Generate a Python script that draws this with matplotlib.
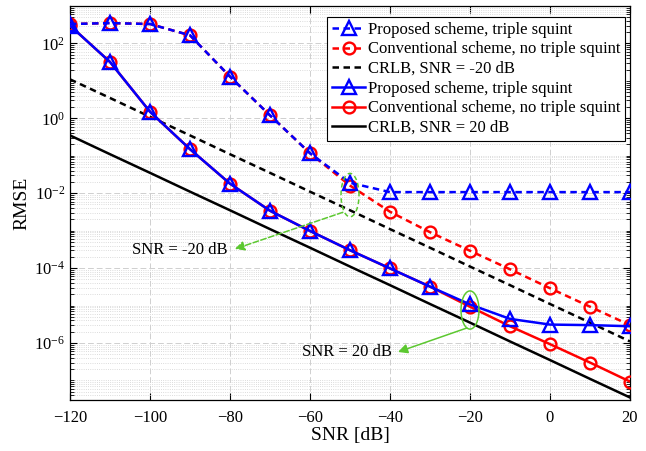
import numpy as np
import matplotlib
matplotlib.use('Agg')
import matplotlib.pyplot as plt
from matplotlib.ticker import FixedLocator, LogLocator, FuncFormatter, NullFormatter

plt.rcParams['font.family'] = ['Liberation Serif', 'DejaVu Serif']
plt.rcParams['mathtext.fontset'] = 'custom'
plt.rcParams['mathtext.rm'] = 'Liberation Serif'
plt.rcParams['mathtext.it'] = 'Liberation Serif:italic'

# data
snr = [-120, -110, -100, -90, -80, -70, -60, -50, -40, -30, -20, -10, 0, 10, 20]

prop_m20 = [330, 350, 330, 165, 13, 1.2, 0.117, 0.019, 0.0107, 0.0107, 0.0107,
            0.0107, 0.0107, 0.0107, 0.0107]
conv_m20 = [330, 350, 330, 165, 13, 1.2, 0.117, 0.016, 3.2e-3, 9.1e-4, 2.9e-4,
            9.3e-5, 2.9e-5, 9.3e-6, 3.0e-6]
crlb_m20 = [11, 3.5, 1.1, 0.35, 0.11, 0.035, 0.011, 3.5e-3, 1.1e-3, 3.5e-4,
            1.1e-4, 3.5e-5, 1.1e-5, 3.5e-6, 1.1e-6]

prop_20 = [300, 32, 1.5, 0.15, 0.018, 3.4e-3, 9.8e-4, 3.0e-4, 9.8e-5, 3.2e-5,
           1.07e-5, 4.4e-6, 3.1e-6, 3.0e-6, 2.8e-6]
conv_20 = [300, 32, 1.5, 0.15, 0.018, 3.4e-3, 9.8e-4, 3.0e-4, 9.8e-5, 3.2e-5,
           9.3e-6, 2.8e-6, 9.3e-7, 3.0e-7, 9.3e-8]
crlb_20 = [0.35, 0.11, 0.035, 0.011, 3.5e-3, 1.1e-3, 3.5e-4, 1.1e-4, 3.5e-5,
           1.1e-5, 3.5e-6, 1.1e-6, 3.5e-7, 1.1e-7, 3.5e-8]

green = '#5cc830'

fig = plt.figure(figsize=(6.46, 4.51), dpi=100)
ax = fig.add_axes([70/646, 51/451, 560/646, 394/451])

lw = 1.8
dash = (2.6, 1.8)
h1, = ax.plot(snr, prop_m20, color='b', ls='--', dashes=dash, lw=lw, marker='^',
              ms=9.5, mfc='none', mew=1.7, zorder=5,
              label='Proposed scheme, triple squint')
h2, = ax.plot(snr, conv_m20, color='r', ls='--', dashes=dash, lw=lw, marker='o',
              ms=8.5, mfc='none', mew=1.7, zorder=4,
              label='Conventional scheme, no triple squint')
h3, = ax.plot(snr, crlb_m20, color='k', ls='--', dashes=dash, lw=lw, zorder=3,
              label='CRLB, SNR = -20 dB')
h4, = ax.plot(snr, prop_20, color='b', ls='-', lw=lw, marker='^',
              ms=9.5, mfc='none', mew=1.7, zorder=5,
              label='Proposed scheme, triple squint')
h5, = ax.plot(snr, conv_20, color='r', ls='-', lw=lw, marker='o',
              ms=8.5, mfc='none', mew=1.7, zorder=4,
              label='Conventional scheme, no triple squint')
h6, = ax.plot(snr, crlb_20, color='k', ls='-', lw=lw, zorder=3,
              label='CRLB, SNR = 20 dB')

ax.set_yscale('log')
ax.set_xlim(-120, 20)
ax.set_ylim(3e-8, 1e3)
ax.set_xticks(np.arange(-120, 21, 20))
ax.yaxis.set_major_locator(FixedLocator([1e-6, 1e-4, 1e-2, 1e0, 1e2]))
ax.yaxis.set_minor_locator(LogLocator(base=10, subs=np.arange(1, 10), numticks=50))
ax.yaxis.set_major_formatter(FuncFormatter(lambda v, p: r'$10^{%d}$' % round(np.log10(v))))
ax.yaxis.set_minor_formatter(NullFormatter())

ax.tick_params(which='both', direction='in', top=True, right=True, labelsize=12)
ax.tick_params(which='major', length=5, width=0.8)
ax.tick_params(which='minor', length=3, width=0.6)
ax.tick_params(axis='x', which='major', pad=7)
ax.grid(True, which='major', ls=(0, (6, 3)), color='#cfcfcf', lw=0.7)
ax.grid(True, which='minor', axis='y', ls=':', color='#d0d0d0', lw=0.6)
for s in ax.spines.values():
    s.set_linewidth(0.9)

ax.set_xlabel('SNR [dB]', fontsize=14, labelpad=1)
ax.set_ylabel('RMSE', fontsize=14, labelpad=3)

# green ellipses around the saturation points
t = np.linspace(0, 2*np.pi, 200)
ax.plot(-50 + 2.25*np.cos(t), 10**(-2.05 + 0.58*np.sin(t)), color=green,
        ls='--', dashes=(3, 2), lw=1.1, zorder=6)
ax.plot(-20 + 2.25*np.cos(t), 10**(-5.12 + 0.51*np.sin(t)), color=green,
        ls='-', lw=1.1, zorder=6)

ax.annotate('', xy=(-78.8, 10**-3.49), xytext=(-51.8, 10**-2.51),
            arrowprops=dict(arrowstyle='-|>', color=green, lw=1.1, ls='--',
                            mutation_scale=14, shrinkA=0, shrinkB=0), zorder=6)
ax.annotate('', xy=(-38, 10**-6.24), xytext=(-20.8, 10**-5.6),
            arrowprops=dict(arrowstyle='-|>', color=green, lw=1.1,
                            mutation_scale=14, shrinkA=0, shrinkB=0), zorder=6)
ax.text(-80.5, 10**-3.52, 'SNR = -20 dB', fontsize=12, ha='right', va='center')
ax.text(-39.5, 10**-6.24, 'SNR = 20 dB', fontsize=12, ha='right', va='center')

leg = ax.legend(handles=[h1, h2, h3, h4, h5, h6], loc='upper right',
                bbox_to_anchor=(0.991, 0.972), borderaxespad=0, fontsize=12,
                numpoints=1, handlelength=2.0, handletextpad=0.15,
                labelspacing=0.22, borderpad=0.28, fancybox=False,
                framealpha=1, edgecolor='k')
leg.get_frame().set_linewidth(0.8)
leg.set_zorder(10)

fig.savefig('out.png', dpi=100)
